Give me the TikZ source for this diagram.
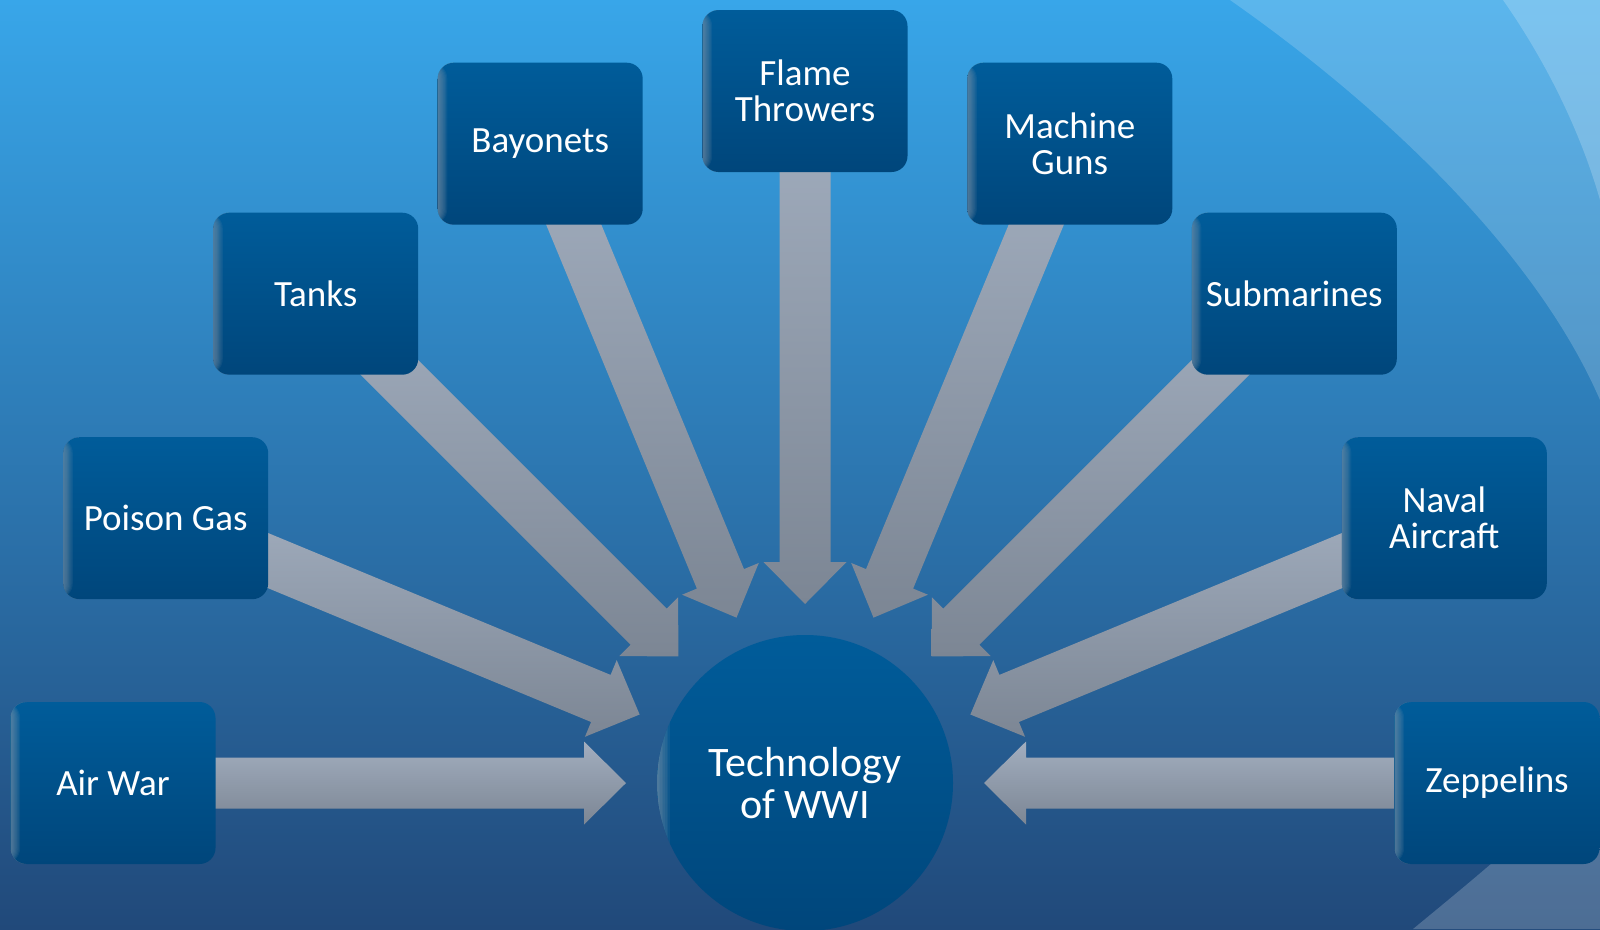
\documentclass[tikz,border=0pt]{standalone}
\usepackage{fontspec}
\setmainfont{Carlito}
\usetikzlibrary{calc}

\definecolor{bgtop}{HTML}{38A6E9}
\definecolor{bgbot}{HTML}{21497A}
\definecolor{boxtop}{HTML}{005C9A}
\definecolor{boxbot}{HTML}{00467B}
\definecolor{bevel}{HTML}{8A9CAE}
\definecolor{arrtop}{HTML}{A2AEBF}
\definecolor{arrbot}{HTML}{7C8694}

\pgfdeclarelayer{back}
\pgfdeclarelayer{links}
\pgfsetlayers{back,links,main}

% soft grey rim along the left edge of a shape, built from stacked strips
\newcommand\leftrim[1]{%
  \foreach \i in {1,...,8}
    \fill[bevel, opacity=0.1]
      (path picture bounding box.south west) rectangle
      ([xshift=\i*#1]path picture bounding box.north west);}

\tikzset{
  box/.style={rounded corners=16pt, minimum width=205pt, minimum height=162pt,
    inner sep=0pt, top color=boxtop, bottom color=boxbot, text=white,
    align=center, font=\fontsize{37}{36}\selectfont,
    path picture={\leftrim{1.2pt}}},
  hub/.style={circle, minimum size=296pt, inner sep=0pt,
    top color=boxtop, bottom color=boxbot, text=white,
    align=center, font=\fontsize{42}{42}\selectfont,
    path picture={\leftrim{1.6pt}}},
  arrowbody/.style={top color=arrtop, bottom color=arrbot},
}

% block arrow from box #1 toward hub #2
\newcommand\blockarrow[2]{%
  \shade[arrowbody]
    ($(#2)!179pt!(#1)$)
    -- ($(#2)!221pt!(#1)!41.5pt!90:(#1)$)
    -- ($(#2)!221pt!(#1)!25.5pt!90:(#1)$)
    -- ($(#1)!25.5pt!-90:(#2)$)
    -- ($(#1)!25.5pt!90:(#2)$)
    -- ($(#2)!221pt!(#1)!25.5pt!-90:(#1)$)
    -- ($(#2)!221pt!(#1)!41.5pt!-90:(#1)$)
    -- cycle;}

\begin{document}
\begin{tikzpicture}[x=1pt, y=-1pt]
\useasboundingbox (0,0) rectangle (1600,929);

% backdrop with light swooshes
\begin{pgfonlayer}{back}
  \shade[top color=bgtop, bottom color=bgbot] (0,0) rectangle (1600,929);
  \fill[white, opacity=0.18] (1230,0)
    .. controls (1380,105) and (1535,250) .. (1600,400)
    -- (1600,0) -- cycle;
  \fill[white, opacity=0.2] (1503,0)
    .. controls (1545,60) and (1580,130) .. (1600,200)
    -- (1600,0) -- cycle;
  \fill[white, opacity=0.2] (1413,929)
    .. controls (1470,882) and (1540,825) .. (1600,762)
    -- (1600,929) -- cycle;
\end{pgfonlayer}

% hub and surrounding topics
\node[hub] (c) at (805,783) {Technology\\of WWI};

\node[box] (air)      at (113,783)      {Air War};
\node[box] (gas)      at (165.7,518.2)  {Poison Gas};
\node[box] (tanks)    at (315.7,293.7)  {Tanks};
\node[box] (bayonets) at (540.2,143.7)  {Bayonets};
\node[box] (flame)    at (805,91)       {Flame\\Throwers};
\node[box] (mguns)    at (1069.8,143.7) {Machine\\Guns};
\node[box] (subs)     at (1294.3,293.7) {Submarines};
\node[box] (naval)    at (1444.3,518.2) {Naval\\Aircraft};
\node[box] (zepp)     at (1497,783)     {Zeppelins};

% connectors
\begin{pgfonlayer}{links}
  \foreach \b in {air,gas,tanks,bayonets,flame,mguns,subs,naval,zepp}
    {\blockarrow{\b}{c}}
\end{pgfonlayer}
\end{tikzpicture}
\end{document}
